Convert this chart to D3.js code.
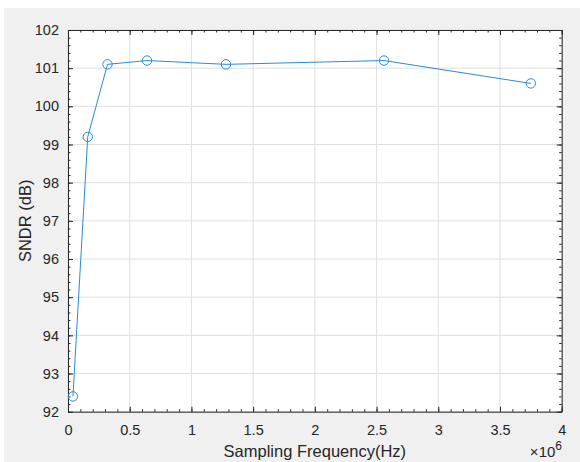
<!DOCTYPE html>
<html>
<head>
<meta charset="utf-8">
<script src="https://cdn.jsdelivr.net/npm/d3@7"></script>
<style>
  body { margin: 0; background: #fff; }
  text { font-family: "Liberation Sans", Arial, sans-serif; fill: #262626; }
</style>
</head>
<body>
<svg id="chart" width="580" height="462"></svg>
<script>
// data (x in Hz, y in dB)
var freqs = [0.04e6, 0.16e6, 0.32e6, 0.64e6, 1.28e6, 2.56e6, 3.75e6];
var sndr = [92.4, 99.2, 101.1, 101.2, 101.1, 101.2, 100.6];
var xTicks = [0, 0.5, 1, 1.5, 2, 2.5, 3, 3.5, 4];
var yTicks = [92, 93, 94, 95, 96, 97, 98, 99, 100, 101, 102];

var svg = d3.select("#chart");
var m = { left: 68, right: 18.3, top: 30, bottom: 50.3 };
var w = 580 - m.left - m.right;
var h = 462 - m.top - m.bottom;

// figure background
svg.append("rect").attr("x", 4).attr("y", 8).attr("width", 576).attr("height", 454).attr("fill", "#f0f0f0");

var x = d3.scaleLinear().domain([0, 4e6]).range([0, w]);
var y = d3.scaleLinear().domain([92, 102]).range([h, 0]);

var g = svg.append("g").attr("transform", "translate(" + m.left + "," + m.top + ")");
g.append("rect").attr("width", w).attr("height", h).attr("fill", "#fff");

// Grid
g.selectAll(".gx").data(xTicks).enter().append("line")
    .attr("x1", function (d) { return x(d * 1e6); }).attr("x2", function (d) { return x(d * 1e6); })
    .attr("y1", 0).attr("y2", h)
    .attr("stroke", "#dfdfdf").attr("stroke-width", 1);
g.selectAll(".gy").data(yTicks).enter().append("line")
    .attr("y1", function (d) { return y(d); }).attr("y2", function (d) { return y(d); })
    .attr("x1", 0).attr("x2", w)
    .attr("stroke", "#dfdfdf").attr("stroke-width", 1);

// minor tick positions
var xMinor = d3.range(0, 40.5, 1).map(function (d) { return d * 1e5; });
var yMinor = d3.range(0, 50.5, 1).map(function (d) { return 92 + d * 0.2; });

var xAxisB = d3.axisBottom(x).tickValues(xTicks.map(function (d) { return d * 1e6; }))
    .tickFormat(function (d) { return d3.format("")(d / 1e6); })
    .tickSizeInner(-5).tickSizeOuter(0).tickPadding(13);
var xAxisT = d3.axisTop(x).tickValues(xTicks.map(function (d) { return d * 1e6; }))
    .tickFormat("").tickSizeInner(-5).tickSizeOuter(0);
var yAxisL = d3.axisLeft(y).tickValues(yTicks).tickFormat(d3.format("d"))
    .tickSizeInner(-5).tickSizeOuter(0).tickPadding(9);
var yAxisR = d3.axisRight(y).tickValues(yTicks).tickFormat("")
    .tickSizeInner(-5).tickSizeOuter(0);

var axes = [
    g.append("g").attr("transform", "translate(0," + h + ")").call(xAxisB),
    g.append("g").call(xAxisT),
    g.append("g").call(yAxisL),
    g.append("g").attr("transform", "translate(" + w + ",0)").call(yAxisR)
];
axes.forEach(function (a) {
    a.selectAll("path").attr("stroke", "#262626");
    a.selectAll("line").attr("stroke", "#262626");
    a.selectAll("text").style("font-size", "14.5px").attr("fill", "#262626");
});

// minor ticks
function minor(s) { s.select("path").remove(); s.selectAll("line").attr("stroke", "#262626"); }
g.append("g").attr("transform", "translate(0," + h + ")")
    .call(d3.axisBottom(x).tickValues(xMinor).tickFormat("").tickSizeInner(-2.5).tickSizeOuter(0))
    .call(minor);
g.append("g")
    .call(d3.axisTop(x).tickValues(xMinor).tickFormat("").tickSizeInner(-2.5).tickSizeOuter(0))
    .call(minor);
g.append("g")
    .call(d3.axisLeft(y).tickValues(yMinor).tickFormat("").tickSizeInner(-2.5).tickSizeOuter(0))
    .call(minor);
g.append("g").attr("transform", "translate(" + w + ",0)")
    .call(d3.axisRight(y).tickValues(yMinor).tickFormat("").tickSizeInner(-2.5).tickSizeOuter(0))
    .call(minor);

// Line + markers
var pts = freqs.map(function (f, i) { return { f: f, v: sndr[i] }; });
var line = d3.line()
    .x(function (d) { return x(d.f); })
    .y(function (d) { return y(d.v); });
g.append("path").attr("d", line(pts))
    .attr("fill", "none").attr("stroke", "#2b8bd0").attr("stroke-width", 1);
g.selectAll(".dot").data(pts).enter().append("circle")
    .attr("cx", function (d) { return x(d.f); })
    .attr("cy", function (d) { return y(d.v); })
    .attr("r", 4.7)
    .attr("fill", "none").attr("stroke", "#2b8bd0").attr("stroke-width", 1);

// Labels
svg.append("text").attr("x", m.left + w / 2).attr("y", 457)
    .attr("text-anchor", "middle").style("font-size", "16.5px")
    .text("Sampling Frequency(Hz)");
svg.append("text")
    .attr("transform", "translate(31," + (m.top + h / 2) + ") rotate(-90)")
    .attr("text-anchor", "middle").style("font-size", "16.5px")
    .text("SNDR (dB)");
var expo = svg.append("text").attr("x", 562).attr("y", 457).attr("text-anchor", "end").style("font-size", "15px");
expo.append("tspan").text("\u00d7");
expo.append("tspan").text("10");
expo.append("tspan").attr("dy", -7).style("font-size", "12px").text("6");
</script>
</body>
</html>
